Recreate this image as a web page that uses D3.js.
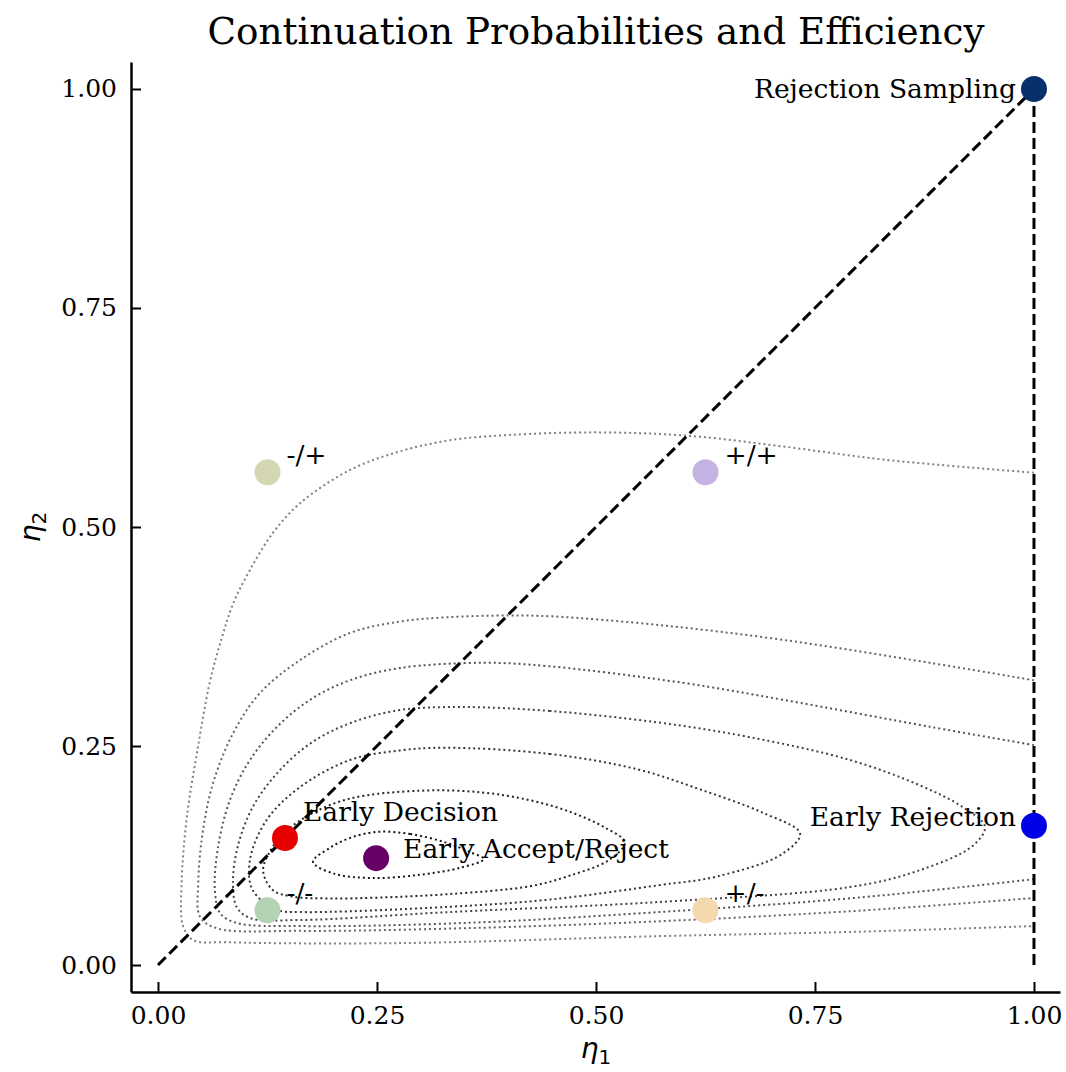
<!DOCTYPE html>
<html lang="en">
<head>
<meta charset="UTF-8">
<title>Continuation Probabilities and Efficiency</title>
<script src="https://d3js.org/d3.v7.min.js"></script>
<style>
  body { margin: 0; background: #fff; }
  text { font-family: "DejaVu Serif", serif; fill: #000; }
</style>
</head>
<body>
<svg id="chart" width="1066" height="1072"></svg>
<script>
// ---- data (eta1, eta2) ----
var xTicks = [0, 0.25, 0.5, 0.75, 1.0];
var yTicks = [0, 0.25, 0.5, 0.75, 1.0];

// named strategies
var pointNames  = ["Rejection Sampling", "Early Rejection", "Early Decision", "Early Accept/Reject", "-/+", "+/+", "-/-", "+/-"];
var pointEta1   = [1.0, 1.0, 0.145, 0.249, 0.125, 0.625, 0.125, 0.625];
var pointEta2   = [1.0, 0.159, 0.145, 0.122, 0.5625, 0.5625, 0.0625, 0.0625];
var pointColors = ["#08306b", "#0000e6", "#e60000", "#660066", "#d4d7b2", "#c4b3e3", "#b3d3b3", "#f5d9ae"];

// efficiency contours, outermost first
var contourA = [[1.0,0.562],[0.828,0.577],[0.713,0.592],[0.607,0.604],[0.505,0.608],[0.40,0.605],[0.333,0.599],[0.275,0.586],[0.219,0.565],[0.162,0.527],[0.131,0.493],[0.105,0.451],[0.086,0.413],[0.073,0.374],[0.059,0.322],[0.045,0.245],[0.033,0.169],[0.027,0.094],[0.0285,0.045],[0.04,0.0285],[0.08,0.026],[0.276,0.025],[0.573,0.033],[0.8,0.038],[1.0,0.0445]];
var contourB = [[1.0,0.325],[0.881,0.345],[0.715,0.371],[0.573,0.388],[0.45,0.398],[0.40,0.399],[0.33,0.397],[0.276,0.392],[0.219,0.379],[0.162,0.348],[0.116,0.31],[0.086,0.265],[0.063,0.208],[0.051,0.151],[0.046,0.094],[0.048,0.055],[0.067,0.042],[0.162,0.039],[0.35,0.042],[0.573,0.05],[0.8,0.062],[1.0,0.0765]];
var contourC = [[1.0,0.251],[0.881,0.272],[0.715,0.3025],[0.6,0.322],[0.447,0.341],[0.372,0.345],[0.276,0.339],[0.219,0.325],[0.174,0.303],[0.136,0.272],[0.105,0.234],[0.082,0.188],[0.068,0.131],[0.065,0.085],[0.071,0.059],[0.09,0.048],[0.162,0.0445],[0.35,0.048],[0.573,0.0605],[0.8,0.077],[1.0,0.098]];
var contourD = [[0.345,0.2945],[0.447,0.29],[0.57,0.277],[0.676,0.26],[0.79,0.234],[0.87,0.205],[0.919,0.18],[0.944,0.158],[0.930,0.136],[0.866,0.107],[0.79,0.089],[0.573,0.072],[0.333,0.0605],[0.162,0.0514],[0.105,0.0537],[0.09,0.066],[0.0856,0.094],[0.091,0.135],[0.108,0.18],[0.136,0.219],[0.174,0.253],[0.219,0.276],[0.276,0.291]];
var contourE = [[0.328,0.248],[0.447,0.241],[0.549,0.223],[0.62,0.2],[0.69,0.174],[0.733,0.15],[0.713,0.127],[0.638,0.101],[0.573,0.0913],[0.45,0.075],[0.333,0.0665],[0.162,0.0605],[0.136,0.063],[0.108,0.0856],[0.105,0.12],[0.124,0.1655],[0.162,0.203],[0.219,0.234],[0.276,0.245]];
var contourF = [[0.3,0.199],[0.37,0.197],[0.425,0.188],[0.47,0.175],[0.51,0.157],[0.533,0.14],[0.515,0.12],[0.47,0.102],[0.425,0.09],[0.333,0.081],[0.253,0.077],[0.196,0.076],[0.154,0.078],[0.131,0.0856],[0.12,0.108],[0.128,0.13],[0.143,0.15],[0.174,0.172],[0.219,0.19]];
var contourG = [[0.25,0.152],[0.288,0.1495],[0.328,0.140],[0.356,0.129],[0.372,0.121],[0.345,0.111],[0.299,0.103],[0.245,0.0993],[0.202,0.104],[0.177,0.1176],[0.196,0.1336],[0.219,0.145]];

var contours = [
  { pts: contourA, closed: false, color: "#808080" },
  { pts: contourB, closed: false, color: "#666666" },
  { pts: contourC, closed: false, color: "#555555" },
  { pts: contourD, closed: true,  color: "#454545" },
  { pts: contourE, closed: true,  color: "#363636" },
  { pts: contourF, closed: true,  color: "#262626" },
  { pts: contourG, closed: true,  color: "#161616" }
];

// ---- layout ----
var svg = d3.select("#chart");
var padL = 131, padR = 1060, padT = 62, padB = 992;

var x = d3.scaleLinear().domain([-0.0308, 1.0297]).range([padL, padR]);
var y = d3.scaleLinear().domain([-0.0308, 1.0308]).range([padB, padT]);

// contours
var g = svg.append("g");
contours.forEach(function(c) {
  var line = d3.line()
      .x(function(d) { return x(d[0]); })
      .y(function(d) { return y(d[1]); })
      .curve(c.closed ? d3.curveCatmullRomClosed : d3.curveCatmullRom);
  g.append("path")
    .attr("d", line(c.pts))
    .attr("fill", "none")
    .attr("stroke", c.color)
    .attr("stroke-width", 2)
    .attr("stroke-dasharray", "2,3");
});

// dashed reference lines
svg.append("line")
  .attr("x1", x(0)).attr("y1", y(0)).attr("x2", x(1)).attr("y2", y(1))
  .attr("stroke", "#000").attr("stroke-width", 3).attr("stroke-dasharray", "11,5");
svg.append("line")
  .attr("x1", x(1)).attr("y1", y(0)).attr("x2", x(1)).attr("y2", y(1))
  .attr("stroke", "#000").attr("stroke-width", 3).attr("stroke-dasharray", "11,5");

// points
svg.selectAll(".pt")
  .data(pointNames)
  .enter().append("circle")
    .attr("class", "pt")
    .attr("cx", function(d, i) { return x(pointEta1[i]); })
    .attr("cy", function(d, i) { return y(pointEta2[i]); })
    .attr("r", 13)
    .attr("fill", function(d, i) { return pointColors[i]; });

// labels (offsets in px from each point)
var labelDx     = [-18, -18, 18, 27, 19, 19, 19, 19];
var labelDy     = [9, 0, -17, 0, -8, -8, -8, -8];
var labelAnchor = ["end", "end", "start", "start", "start", "start", "start", "start"];
svg.selectAll(".lbl")
  .data(pointNames)
  .enter().append("text")
    .attr("class", "lbl")
    .attr("x", function(d, i) { return x(pointEta1[i]) + labelDx[i]; })
    .attr("y", function(d, i) { return y(pointEta2[i]) + labelDy[i]; })
    .attr("text-anchor", function(d, i) { return labelAnchor[i]; })
    .style("font-size", "26.5px")
    .text(function(d) { return d; });

// axes
var xAxis = d3.axisBottom(x).tickValues(xTicks).tickFormat(d3.format(".2f")).tickSizeInner(-10).tickSizeOuter(0).tickPadding(14);
var yAxis = d3.axisLeft(y).tickValues(yTicks).tickFormat(d3.format(".2f")).tickSizeInner(-10).tickSizeOuter(0).tickPadding(14);

var gx = svg.append("g").attr("transform", "translate(0," + padB + ")").call(xAxis);
var gy = svg.append("g").attr("transform", "translate(" + padL + ",0)").call(yAxis);
[gx, gy].forEach(function(a) {
  a.select(".domain").attr("stroke", "#000").attr("stroke-width", 2.5);
  a.selectAll(".tick line").attr("stroke", "#000").attr("stroke-width", 2);
  a.selectAll(".tick text").style("font-family", "DejaVu Serif").style("font-size", "25px").attr("fill", "#000");
});

// title and axis labels
svg.append("text")
  .attr("x", 596).attr("y", 44)
  .attr("text-anchor", "middle")
  .style("font-size", "37.3px")
  .text("Continuation Probabilities and Efficiency");

var xl = svg.append("text")
  .attr("x", 596).attr("y", 1058)
  .attr("text-anchor", "middle")
  .style("font-family", "DejaVu Sans").style("font-size", "28px").style("font-style", "italic");
xl.append("tspan").text("η");
xl.append("tspan").attr("dy", 6).style("font-size", "20px").style("font-style", "normal").text("1");

var yl = svg.append("text")
  .attr("transform", "translate(40,527) rotate(-90)")
  .attr("text-anchor", "middle")
  .style("font-family", "DejaVu Sans").style("font-size", "28px").style("font-style", "italic");
yl.append("tspan").text("η");
yl.append("tspan").attr("dy", 6).style("font-size", "20px").style("font-style", "normal").text("2");
</script>
</body>
</html>
